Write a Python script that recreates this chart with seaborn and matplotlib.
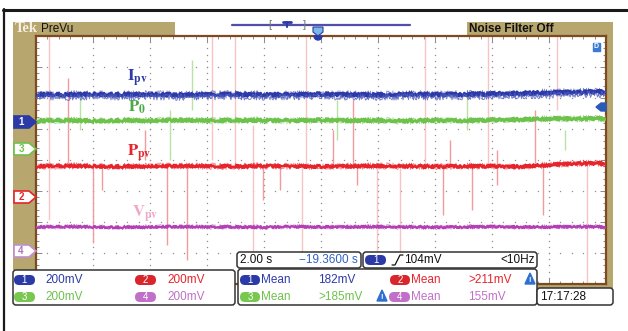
import numpy as np
import matplotlib
matplotlib.use('Agg')
import matplotlib.pyplot as plt
import seaborn as sns
from matplotlib.patches import Rectangle, FancyBboxPatch, Polygon, Wedge

sns.set_style('white')
plt.rcParams['font.family'] = ['Liberation Sans', 'DejaVu Sans']
plt.rcParams['mathtext.fontset'] = 'stix'

# trace levels in divisions (0 = screen centre), read every half division
ipv = [2.12, 2.10, 2.12, 2.11, 2.12, 2.10, 2.11, 2.12, 2.10, 2.11, 2.12,
       2.11, 2.10, 2.12, 2.11, 2.12, 2.13, 2.15, 2.17, 2.19, 2.20]
p0 = [1.27, 1.28, 1.26, 1.28, 1.27, 1.29, 1.27, 1.28, 1.28, 1.27, 1.29,
      1.27, 1.28, 1.26, 1.28, 1.27, 1.29, 1.31, 1.33, 1.33, 1.34]
ppv = [-0.20, -0.19, -0.20, -0.21, -0.20, -0.19, -0.20, -0.21, -0.19, -0.20, -0.21,
       -0.20, -0.19, -0.20, -0.21, -0.20, -0.20, -0.21, -0.16, -0.11, -0.11]
vpv = [-2.16, -2.15, -2.16, -2.17, -2.16, -2.15, -2.16, -2.16, -2.17, -2.15, -2.16,
       -2.16, -2.15, -2.16, -2.17, -2.16, -2.15, -2.16, -2.16, -2.15, -2.16]

# glitches: x (div), from, to (div), kind
spike_x = [0.23, 0.56, 0.77, 1.00, 1.16, 1.91, 2.30, 2.35, 2.65, 2.74, 3.09, 3.49,
           3.81, 3.98, 4.28, 4.67, 4.74, 5.21, 5.28, 5.56, 5.63, 5.98, 6.39, 6.82,
           7.14, 7.26, 7.56, 7.65, 7.93, 8.09, 8.75, 8.89, 9.14, 9.28, 9.67]
spike_top = [4.0, 2.65, 2.10, -0.10, -0.19, 0.97, -0.19, 1.61, -0.19, 3.23, 4.0, 4.0,
             1.13, -0.19, -0.19, -0.19, 4.0, 0.97, 1.94, 1.94, -0.19, -0.19, -0.19, 4.0,
             -0.19, 0.65, 2.26, -0.19, 4.0, 0.32, 1.61, -0.19, 4.0, 0.97, -0.19]
spike_bot = [-1.94, -0.10, 0.97, -2.68, -0.97, 0.0, -2.74, 0.0, -3.23, 1.61, 0.0, -0.16,
             -4.0, -1.29, -0.97, -4.0, -0.16, -0.16, 0.65, -0.16, -0.81, -4.0, -4.0, -0.16,
             -1.77, -0.16, 0.97, -1.61, -0.16, -0.81, -0.16, -1.77, 1.61, 0.32, -4.0]
spike_kind = ['pale', 'red', 'green', 'red', 'red', 'red', 'red', 'green', 'red', 'green',
              'pale', 'pale', 'pale', 'red', 'red', 'pale', 'pale', 'red', 'green', 'red',
              'red', 'pale', 'pale', 'pale', 'red', 'red', 'green', 'red', 'pale', 'red',
              'red', 'red', 'pale', 'green', 'pale']

BLUE = '#2c3aa8'
GREEN = '#6cc24a'
RED = '#e5242c'
PURPLE = '#b23fb4'
PINK = '#f2a6c8'
TAN = '#b7a66d'
BROWN = '#7e4a22'
kind_col = {'pale': '#f7c4c6', 'red': '#f29a9e', 'green': '#b9e3a6'}

fig = plt.figure(figsize=(6.28, 3.31), dpi=100)

# background layer in pixel units
bg = fig.add_axes([0, 0, 1, 1], zorder=0)
bg.set_xlim(0, 628)
bg.set_ylim(331, 0)
bg.axis('off')
bg.add_patch(Rectangle((13, 22), 162, 14, color=TAN, lw=0))
bg.add_patch(Rectangle((467, 22), 146, 14, color=TAN, lw=0))
bg.add_patch(Rectangle((13, 22), 23, 248, color=TAN, lw=0))
bg.add_patch(Rectangle((604, 22), 9, 268, color=TAN, lw=0))
bg.add_patch(Rectangle((537, 282), 76, 8, color=TAN, lw=0))
bg.plot([3, 627], [9.5, 9.5], color='#1a1a1a', lw=2.2)
bg.plot([3.5, 3.5], [9, 331], color='#1a1a1a', lw=1.6)

# scope screen
ax = fig.add_axes([36 / 628, 47 / 331, 570 / 628, 248 / 331], zorder=1)
ax.set_xlim(0, 10)
ax.set_ylim(-4, 4)
ax.set_facecolor('white')
for s in ax.spines.values():
    s.set_color(BROWN)
    s.set_linewidth(1.6)
ax.set_xticks(range(0, 11))
ax.set_yticks(range(-4, 5))
ax.set_xticks(np.arange(0, 10.01, 0.2), minor=True)
ax.set_yticks(np.arange(-4, 4.01, 0.2), minor=True)
ax.tick_params(which='both', direction='in', top=True, right=True, bottom=True, left=True,
               labelbottom=False, labelleft=False, color='#777777', width=0.6)
ax.tick_params(which='major', length=4)
ax.tick_params(which='minor', length=2)
ax.set_xlabel('')
ax.set_ylabel('')

dots_v = np.arange(-4, 4.01, 0.2)
dots_h = np.arange(0, 10.01, 0.2)
for xi in range(1, 10):
    ax.scatter(np.full(len(dots_v), xi), dots_v, s=1.0, color='#8f8f8f', lw=0, zorder=1)
for yi in range(-3, 4):
    ax.scatter(dots_h, np.full(len(dots_h), yi), s=1.0, color='#8f8f8f', lw=0, zorder=1)

ax.vlines(spike_x, spike_bot, spike_top, colors=[kind_col[k] for k in spike_kind],
          lw=1.0, zorder=2)

t = np.linspace(0, 10, len(ipv))
traces = [(ipv, BLUE, 3.0, 2.0), (p0, GREEN, 2.6, 2.0), (ppv, RED, 2.5, 1.8),
          (vpv, PURPLE, 1.8, 1.6)]
for vals, col, amp, lw in traces:
    sns.lineplot(x=t, y=vals, ax=ax, color=col, lw=lw, zorder=3)
    ax.lines[-1].set_sketch_params(scale=amp * 0.6, length=2.5, randomness=2)
    sns.lineplot(x=t, y=vals, ax=ax, color=col, lw=0.6, alpha=0.6, zorder=3)
    ax.lines[-1].set_sketch_params(scale=amp * 1.3, length=1.5, randomness=3)

# the current trace has a comb of short dips under it
sns.lineplot(x=t, y=np.array(ipv) - 0.08, ax=ax, color='#5560c0', lw=0.7, alpha=0.8, zorder=3)
ax.lines[-1].set_sketch_params(scale=3.0, length=1.0, randomness=3)

ax.text(1.60, 2.65, r'$\mathbf{I}_{\mathbf{pv}}$', color=BLUE, fontsize=12, va='center')
ax.text(1.61, 1.71, r'$\mathbf{P}_{\mathbf{0}}$', color='#4aa84a', fontsize=12, va='center')
ax.text(1.60, 0.23, r'$\mathbf{P}_{\mathbf{pv}}$', color=RED, fontsize=12, va='center')
ax.text(1.68, -1.74, r'$\mathbf{V}_{\mathbf{pv}}$', color=PINK, fontsize=12, va='center')

# foreground layer in pixel units
fg = fig.add_axes([0, 0, 1, 1], zorder=2)
fg.set_xlim(0, 628)
fg.set_ylim(331, 0)
fg.axis('off')
fg.patch.set_alpha(0)

fg.text(15, 29, 'Tek', color='#f4efe0', fontsize=10.5, fontweight='bold',
        family=['Liberation Serif', 'DejaVu Serif'], va='center')
fg.text(41, 29, 'PreVu', color='#111111', fontsize=8.5, va='center')
fg.text(469, 29, 'Noise Filter Off', color='#111111', fontsize=8.5, fontweight='bold',
        va='center', family=['Liberation Sans Narrow', 'Liberation Sans', 'DejaVu Sans'])

# record bar with trigger position
fg.plot([232, 410], [25, 25], color='#5050aa', lw=1.6)
fg.text(270, 25, '[', color='#777777', fontsize=8, ha='center', va='center')
fg.text(304, 25, ']', color='#777777', fontsize=8, ha='center', va='center')
fg.plot([283, 291], [22, 22], color=BLUE, lw=2)
fg.plot([287, 287], [22, 27], color=BLUE, lw=1.5)
fg.add_patch(Polygon([[313, 27], [323, 27], [323, 32], [318, 36], [313, 32]],
                     facecolor='#7ab8e8', edgecolor=BLUE, lw=0.8))
fg.add_patch(Wedge((318, 36), 4, 0, 180, color=BLUE))
fg.add_patch(Rectangle((593, 43), 7, 8, color='#3a7ad0'))
fg.text(596.5, 47, 'D', color='white', fontsize=5, ha='center', va='center', fontweight='bold')
fg.add_patch(Polygon([[596, 107], [601, 103], [606, 103], [606, 111], [601, 111]],
                     color='#2a5ab8'))

# channel markers on the left
markers = [(122, '1', BLUE, 'white', BLUE), (149, '3', 'white', GREEN, GREEN),
           (197, '2', 'white', RED, RED), (251, '4', 'white', '#b070c0', '#c090d0')]
for yy, lab, face, tcol, ecol in markers:
    fg.add_patch(Polygon([[14, yy - 6], [29, yy - 6], [36, yy], [29, yy + 6], [14, yy + 6]],
                         facecolor=face, edgecolor=ecol, lw=1.2, zorder=4))
    fg.text(21, yy, lab, color=tcol, fontsize=7, fontweight='bold', ha='center', va='center',
            zorder=5)


def box(x0, y0, x1, y1):
    fg.add_patch(FancyBboxPatch((x0, y0), x1 - x0, y1 - y0,
                                boxstyle='round,pad=0,rounding_size=3',
                                facecolor='white', edgecolor='#333333', lw=1.1, zorder=3))


def pill(x0, yc, w, lab, col):
    fg.add_patch(FancyBboxPatch((x0, yc - 5), w, 10, boxstyle='round,pad=0,rounding_size=5',
                                facecolor=col, edgecolor='none', zorder=4))
    fg.text(x0 + w / 2, yc, lab, color='white', fontsize=7, ha='center', va='center', zorder=5)


def warn(xc, yc):
    fg.add_patch(Polygon([[xc - 5, yc + 5], [xc + 5, yc + 5], [xc, yc - 6]],
                         color='#2f6fd0', zorder=4))
    fg.text(xc, yc + 1.5, '!', color='white', fontsize=5.5, fontweight='bold',
            ha='center', va='center', zorder=5)


fs = 8.5
box(13, 270, 235, 305)
pill(14, 280, 21, '1', BLUE)
fg.text(45, 280, '200mV', color=BLUE, fontsize=fs, va='center', zorder=5)
pill(135, 280, 21, '2', '#d9262c')
fg.text(167, 280, '200mV', color=RED, fontsize=fs, va='center', zorder=5)
pill(14, 297, 21, '3', '#78c850')
fg.text(45, 297, '200mV', color=GREEN, fontsize=fs, va='center', zorder=5)
pill(135, 297, 21, '4', '#c070c8')
fg.text(167, 297, '200mV', color='#c070c8', fontsize=fs, va='center', zorder=5)

box(237, 252, 361, 268)
fg.text(240, 260, '2.00 s', color='#111111', fontsize=fs, va='center', zorder=5)
fg.text(358, 260, '\u221219.3600 s', color='#2f62c0', fontsize=fs, va='center', ha='right',
        zorder=5)

box(363, 252, 537, 268)
pill(365, 260, 21, '1', BLUE)
fg.plot([392, 395, 400, 403], [265, 265, 255, 255], color='#111111', lw=0.9, zorder=5)
fg.text(404, 260, '104mV', color='#111111', fontsize=fs, va='center', zorder=5)
fg.text(535, 260, '<10Hz', color='#111111', fontsize=fs, va='center', ha='right', zorder=5)

box(238, 269, 537, 305)
pill(240, 280, 20, '1', BLUE)
fg.text(261, 280, 'Mean', color=BLUE, fontsize=fs, va='center', zorder=5)
fg.text(318, 280, '182mV', color=BLUE, fontsize=fs, va='center', zorder=5)
pill(390, 280, 20, '2', '#d9262c')
fg.text(411, 280, 'Mean', color=RED, fontsize=fs, va='center', zorder=5)
fg.text(468, 280, '>211mV', color=RED, fontsize=fs, va='center', zorder=5)
warn(530, 279)
pill(240, 297, 20, '3', '#78c850')
fg.text(261, 297, 'Mean', color=GREEN, fontsize=fs, va='center', zorder=5)
fg.text(318, 297, '>185mV', color=GREEN, fontsize=fs, va='center', zorder=5)
warn(382, 296)
pill(389, 297, 21, '4', '#c070c8')
fg.text(411, 297, 'Mean', color='#c070c8', fontsize=fs, va='center', zorder=5)
fg.text(468, 297, '155mV', color='#c070c8', fontsize=fs, va='center', zorder=5)

box(537, 288, 613, 305)
fg.text(540, 297, '17:17:28', color='#111111', fontsize=fs, va='center', zorder=5)

fig.savefig('out.png', dpi=100)
